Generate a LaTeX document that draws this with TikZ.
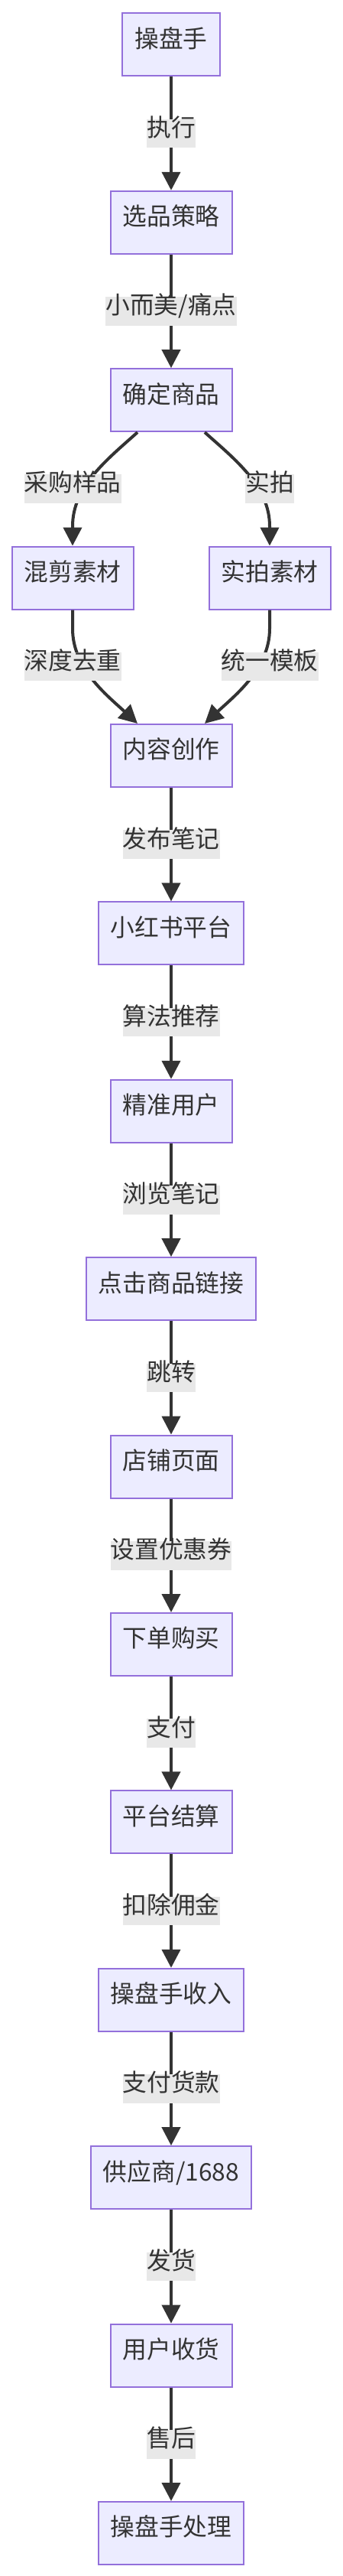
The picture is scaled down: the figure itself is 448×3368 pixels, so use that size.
\documentclass[tikz,border=0pt]{standalone}
\usepackage{fontspec}
\setmainfont{Noto Sans CJK SC}
\usetikzlibrary{arrows.meta,calc}
\definecolor{nodefill}{HTML}{ECECFF}
\definecolor{nodeline}{HTML}{9370DB}
\definecolor{edgecol}{HTML}{333333}
\definecolor{labelbg}{HTML}{E8E8E8}
\definecolor{txt}{HTML}{333333}
\begin{document}
\begin{tikzpicture}[x=1pt,y=-1pt,
  box/.style={draw=nodeline, line width=2pt, fill=nodefill, text=txt,
    minimum height=82pt, inner xsep=16pt, inner ysep=0pt,
    text height=0.88em, text depth=0.12em,
    font=\fontsize{31.75}{38}\selectfont},
  elabel/.style={fill=labelbg, text=txt, inner xsep=0pt, inner ysep=0pt,
    minimum height=37.5pt, text height=0.88em, text depth=0.12em,
    font=\fontsize{31.75}{38}\selectfont},
  edge/.style={draw=edgecol, line width=4pt,
    -{Triangle[length=24pt,width=24pt]}}]
\useasboundingbox (0,0) rectangle (448,3368);
\fill[white] (0,0) rectangle (448,3368);

\node[box] (n0)  at (224,58.4)   {操盘手};
\node[box] (n1)  at (224,290.8)  {选品策略};
\node[box] (n2)  at (224,523.2)  {确定商品};
\node[box] (n3a) at (95,755.6)   {混剪素材};
\node[box] (n3b) at (353,755.6)  {实拍素材};
\node[box] (n4)  at (224,988)    {内容创作};
\node[box] (n5)  at (224,1220.4) {小红书平台};
\node[box] (n6)  at (224,1452.8) {精准用户};
\node[box] (n7)  at (224,1685.2) {点击商品链接};
\node[box] (n8)  at (224,1917.6) {店铺页面};
\node[box] (n9)  at (224,2150)   {下单购买};
\node[box] (n10) at (224,2382.4) {平台结算};
\node[box] (n11) at (224,2614.8) {操盘手收入};
\node[box] (n12) at (224,2847.2) {供应商/1688};
\node[box] (n13) at (224,3079.6) {用户收货};
\node[box] (n14) at (224,3312)   {操盘手处理};

\draw[edge] (n0) -- node[elabel]{执行} (n1);
\draw[edge] (n1) -- node[elabel]{小而美/痛点} (n2);

% branches
\draw[edge] ($(n2.south)+(-44,0)$) .. controls (140,601) and (95,636) .. (95,688) -- (n3a.north);
\draw[edge] ($(n2.south)+(44,0)$) .. controls (308,601) and (353,636) .. (353,688) -- (n3b.north);
\draw[edge] (n3a.south) -- (95,822) .. controls (95,874) and (140,909) .. ($(n4.north)+(-44,0)$);
\draw[edge] (n3b.south) -- (353,822) .. controls (353,874) and (308,909) .. ($(n4.north)+(44,0)$);
\node[elabel] (l3a) at (95,639)   {采购样品};
\node[elabel] (l3b) at (353,639)  {实拍};
\node[elabel] (l4a) at (95,871.5) {深度去重};
\node[elabel] (l4b) at (353,871.5){统一模板};

\draw[edge] (n4)  -- node[elabel]{发布笔记} (n5);
\draw[edge] (n5)  -- node[elabel]{算法推荐} (n6);
\draw[edge] (n6)  -- node[elabel]{浏览笔记} (n7);
\draw[edge] (n7)  -- node[elabel]{跳转} (n8);
\draw[edge] (n8)  -- node[elabel]{设置优惠券} (n9);
\draw[edge] (n9)  -- node[elabel]{支付} (n10);
\draw[edge] (n10) -- node[elabel]{扣除佣金} (n11);
\draw[edge] (n11) -- node[elabel]{支付货款} (n12);
\draw[edge] (n12) -- node[elabel]{发货} (n13);
\draw[edge] (n13) -- node[elabel]{售后} (n14);
\end{tikzpicture}
\end{document}
